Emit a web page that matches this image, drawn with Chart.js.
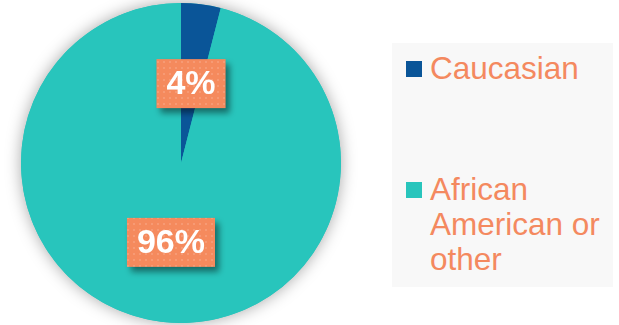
<!DOCTYPE html>
<html>
<head>
<meta charset="utf-8">
<script src="https://cdn.jsdelivr.net/npm/chart.js@4"></script>
<style>
  html, body { margin: 0; padding: 0; background: #fff; }
  body { width: 619px; height: 325px; position: relative; overflow: hidden; font-family: "Liberation Sans", Arial, sans-serif; }
  #pieChart { position: absolute; left: 0; top: 0; }
  #legend { position: absolute; left: 392px; top: 43px; width: 221px; height: 244px; background: #f8f8f8; }
  .item { position: absolute; left: 14px; width: 200px; }
  .swatch { position: absolute; left: 0; width: 16px; height: 16px; }
  .label { margin-left: 24px; font-size: 31.5px; line-height: 35px; color: #f4895f; }
</style>
</head>
<body>
<canvas id="pieChart" width="362" height="325"></canvas>
<div id="legend"></div>
<script>
// dados
const categories = ["Caucasian", "African American or other"];
const shares = [4, 96];
const sliceColors = ["#0a5598", "#28c5bc"];

// padrão pontilhado das caixas de rótulo
function dotPattern(ctx) {
  const c = document.createElement("canvas");
  c.width = 6; c.height = 6;
  const p = c.getContext("2d");
  p.fillStyle = "#f58a5d";
  p.fillRect(0, 0, 6, 6);
  p.fillStyle = "#f79a74";
  p.fillRect(1, 1, 2, 2);
  return ctx.createPattern(c, "repeat");
}

const pieShadow = {
  id: "pieShadow",
  beforeDatasetsDraw(chart) {
    const arc = chart.getDatasetMeta(0).data[0];
    if (!arc) return;
    const ctx = chart.ctx;
    ctx.save();
    ctx.shadowColor = "rgba(0,0,0,0.35)";
    ctx.shadowBlur = 16;
    ctx.fillStyle = sliceColors[1];
    ctx.beginPath();
    ctx.arc(arc.x, arc.y, arc.outerRadius, 0, Math.PI * 2);
    ctx.fill();
    ctx.restore();
  }
};

const boxLabels = {
  id: "boxLabels",
  afterDatasetsDraw(chart) {
    const ctx = chart.ctx;
    const fill = dotPattern(ctx);
    chart.getDatasetMeta(0).data.forEach((arc, i) => {
      const pos = arc.tooltipPosition();
      const txt = shares[i] + "%";
      ctx.save();
      ctx.font = "bold 34px 'Liberation Sans', Arial, sans-serif";
      const w = ctx.measureText(txt).width + 20;
      const h = 49;
      ctx.shadowColor = "rgba(0,0,0,0.45)";
      ctx.shadowOffsetX = 4;
      ctx.shadowOffsetY = 5;
      ctx.shadowBlur = 6;
      ctx.fillStyle = fill;
      ctx.fillRect(pos.x - w / 2, pos.y - h / 2, w, h);
      ctx.shadowColor = "transparent";
      ctx.fillStyle = "#ffffff";
      ctx.textAlign = "center";
      ctx.textBaseline = "middle";
      ctx.fillText(txt, pos.x, pos.y + 1);
      ctx.restore();
    });
  }
};

const chart = new Chart(document.getElementById("pieChart").getContext("2d"), {
  type: "pie",
  data: {
    labels: categories,
    datasets: [{ data: shares, backgroundColor: sliceColors, borderWidth: 0, hoverOffset: 0 }]
  },
  options: {
    responsive: false,
    animation: false,
    layout: { padding: { top: 3, bottom: 2, left: 0, right: 0 } },
    plugins: { legend: { display: false }, tooltip: { enabled: false } }
  },
  plugins: [pieShadow, boxLabels]
});

// legenda em HTML a partir dos dados
const legend = document.getElementById("legend");
const tops = [8, 129];
categories.forEach((name, i) => {
  const item = document.createElement("div");
  item.className = "item";
  item.style.top = tops[i] + "px";
  item.innerHTML = '<div class="swatch" style="top:10px;background:' + sliceColors[i] + '"></div><div class="label">' + name + "</div>";
  legend.appendChild(item);
});
</script>
</body>
</html>
